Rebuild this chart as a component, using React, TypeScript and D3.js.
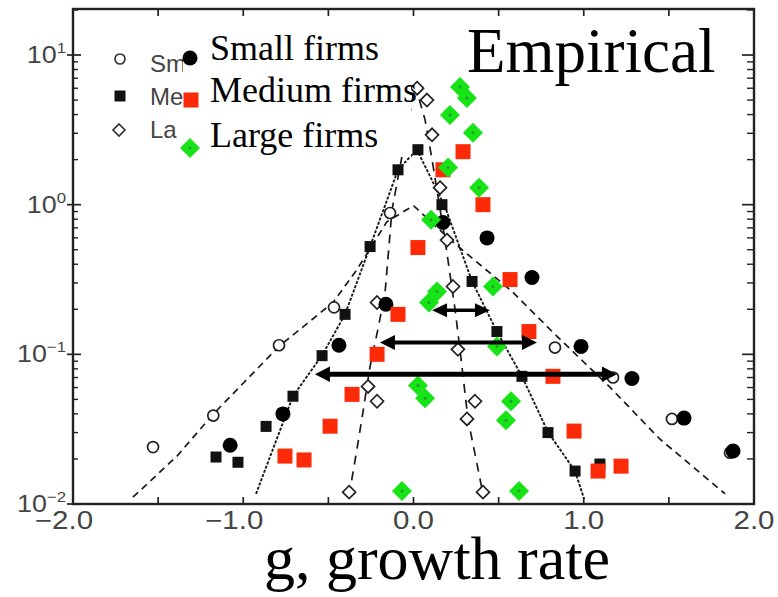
import * as d3 from "d3";

// ── Data ──────────────────────────────────────────────────────────────────────

const X_TICKS = [-2, -1, 0, 1, 2];
const X_TICK_LABELS = ["−2.0", "−1.0", "0.0", "1.0", "2.0"];
const X_MINOR = [-2, -1.5, -1, -0.5, 0, 0.5, 1, 1.5, 2];
const Y_MAJOR = [0.01, 0.1, 1, 10];
const Y_EXPONENTS = ["−2", "−1", "0", "1"];

type Pt = [number, number]; // [g, p(g)]

// fitted tents from the original (scanned) figure
const smallFit: Pt[] = [
  [-1.648, 0.0111], [-1.389, 0.0209], [-1.177, 0.0398], [-0.79, 0.113], [-0.473, 0.222],
  [-0.332, 0.369], [-0.156, 0.77], [0, 0.985], [0.214, 0.585], [0.579, 0.263],
  [0.843, 0.132], [1.154, 0.0603], [1.448, 0.0271], [1.83, 0.0117],
];
const mediumFit: Pt[] = [
  [-0.925, 0.0117], [-0.708, 0.0525], [-0.537, 0.0985], [-0.402, 0.185], [-0.255, 0.525],
  [-0.091, 1.71], [0.02, 2.33], [0.185, 0.97], [0.344, 0.307], [0.49, 0.142],
  [0.637, 0.0713], [0.79, 0.0302], [0.949, 0.0166], [1.002, 0.0108],
];
const largeFit: Pt[] = [
  [-0.379, 0.0113], [-0.332, 0.0233], [-0.297, 0.0411], [-0.255, 0.0832], [-0.209, 0.147],
  [-0.167, 0.259], [-0.126, 0.926], [-0.05, 2.71], [0.009, 6.31], [0.068, 3.69],
  [0.109, 2.0], [0.185, 0.585], [0.244, 0.2], [0.273, 0.108], [0.32, 0.0369],
  [0.379, 0.0171], [0.408, 0.0117],
];

// original markers
const smallOrig: Pt[] = [
  [-1.53, 0.024], [-1.176, 0.039], [-0.79, 0.115], [-0.467, 0.206], [-0.138, 0.88],
  [0.831, 0.111], [1.172, 0.07], [1.518, 0.037], [1.859, 0.022],
];
const mediumOrig: Pt[] = [
  [-1.16, 0.0206], [-1.031, 0.019], [-0.866, 0.033], [-0.708, 0.0525], [-0.537, 0.098],
  [-0.402, 0.185], [-0.255, 0.525], [-0.091, 1.71], [0.026, 2.33], [0.167, 1.0],
  [0.344, 0.307], [0.49, 0.142], [0.637, 0.0713], [0.79, 0.03], [0.949, 0.0166],
  [1.095, 0.0185],
];
const largeOrig: Pt[] = [
  [-0.378, 0.012], [-0.267, 0.061], [-0.214, 0.0486], [-0.214, 0.222], [0.021, 6.0],
  [0.079, 5.0], [0.109, 2.93], [0.156, 1.3], [0.197, 0.58], [0.232, 0.284],
  [0.261, 0.108], [0.361, 0.0486], [0.314, 0.037], [0.408, 0.012],
];

// overlaid empirical points
const smallEmp: Pt[] = [
  [-1.077, 0.0247], [-0.767, 0.04], [-0.438, 0.115], [-0.162, 0.216], [0.173, 0.76],
  [0.432, 0.6], [0.696, 0.326], [0.984, 0.113], [1.283, 0.069], [1.589, 0.0375],
  [1.877, 0.0226],
];
const mediumEmp: Pt[] = [
  [-0.755, 0.0209], [-0.643, 0.0197], [-0.49, 0.0331], [-0.361, 0.054], [-0.214, 0.1],
  [-0.091, 0.185], [0.026, 0.517], [0.173, 1.71], [0.291, 2.26], [0.408, 1.0],
  [0.567, 0.316], [0.678, 0.142], [0.819, 0.0713], [0.943, 0.0307], [1.084, 0.0166],
  [1.219, 0.0179],
];
const largeEmp: Pt[] = [
  [0.273, 6.12], [0.314, 5.17], [0.214, 3.98], [0.349, 3.02], [0.203, 1.77],
  [0.385, 1.3], [0.103, 0.794], [0.138, 0.263], [0.091, 0.222], [0.467, 0.284],
  [0.49, 0.113], [0.026, 0.062], [0.068, 0.0509], [0.573, 0.0486], [0.543, 0.0363],
  [-0.068, 0.0122], [0.62, 0.0122],
];

// double-headed arrows: [g from, g to, p]
const arrows: [number, number, number][] = [
  [0.109, 0.449, 0.197],
  [-0.197, 0.725, 0.12],
  [-0.579, 1.195, 0.0736],
];
const ARROW_WIDTH = [3.5, 4, 5];

// old legend text is cut off by the new legend box in the source
const OLD_LEGEND = ["Sm", "Me", "La"];
const NEW_LEGEND = ["Small firms", "Medium firms", "Large firms"];

// ── Layout ────────────────────────────────────────────────────────────────────

const W = 778;
const H = 597;
const PLOT = { left: 73, right: 754, top: 9, bottom: 504 };
const SANS = "'Liberation Sans', Arial, sans-serif";
const SERIF = "'Liberation Serif', 'Times New Roman', serif";
const RED = "#fd2a08";
const GREEN = "#16e416";

const x = d3.scaleLinear().domain([-2, 2]).range([PLOT.left, PLOT.right]);
const y = d3.scaleLog().domain([0.01, 20.3]).range([PLOT.bottom, PLOT.top]);

const line = d3
  .line<Pt>()
  .x((d) => x(d[0]))
  .y((d) => y(d[1]));

function diamond(cx: number, cy: number, r: number) {
  return `M${cx},${cy - r}L${cx + r},${cy}L${cx},${cy + r}L${cx - r},${cy}Z`;
}

export default function App() {
  const yMinor = y.ticks().filter((t) => !Y_MAJOR.some((m) => Math.abs(m - t) < 1e-9));

  return (
    <svg width={W} height={H} style={{ display: "block" }}>
      <style>{`body{margin:0}`}</style>
      <defs>
        <clipPath id="old-legend-clip">
          <rect x={0} y={0} width={183} height={H} />
        </clipPath>
      </defs>
      <rect width={W} height={H} fill="#fff" />

      {/* fitted lines */}
      <path d={line(smallFit) ?? ""} fill="none" stroke="#1a1a1a" strokeWidth={1.7} strokeDasharray="7,5" />
      <path d={line(mediumFit) ?? ""} fill="none" stroke="#1a1a1a" strokeWidth={1.9} strokeDasharray="3,1.5" />
      <path d={line(largeFit) ?? ""} fill="none" stroke="#1a1a1a" strokeWidth={1.7} strokeDasharray="9,7" />

      {/* original markers */}
      {smallOrig.map((d, i) => (
        <circle key={`so${i}`} cx={x(d[0])} cy={y(d[1])} r={5.5} fill="#fff" stroke="#222" strokeWidth={1.7} />
      ))}
      {mediumOrig.map((d, i) => (
        <rect key={`mo${i}`} x={x(d[0]) - 5.5} y={y(d[1]) - 5.5} width={11} height={11} fill="#111" />
      ))}
      {largeOrig.map((d, i) => (
        <path key={`lo${i}`} d={diamond(x(d[0]), y(d[1]), 6.5)} fill="#fff" stroke="#222" strokeWidth={1.7} />
      ))}

      {/* empirical markers */}
      {smallEmp.map((d, i) => (
        <circle key={`se${i}`} cx={x(d[0])} cy={y(d[1])} r={7.5} fill="#000" />
      ))}
      {mediumEmp.map((d, i) => (
        <rect key={`me${i}`} x={x(d[0]) - 7.5} y={y(d[1]) - 7.5} width={15} height={15} fill={RED} />
      ))}
      {largeEmp.map((d, i) => (
        <g key={`le${i}`}>
          <path d={diamond(x(d[0]), y(d[1]), 10)} fill={GREEN} />
          <circle cx={x(d[0])} cy={y(d[1])} r={1.5} fill="#2a9a2a" />
        </g>
      ))}

      {/* arrows */}
      {arrows.map(([g0, g1, p], i) => {
        const x0 = x(g0);
        const x1 = x(g1);
        const yy = y(p);
        const hl = 15;
        const hh = 7 + i * 0.4;
        return (
          <g key={`a${i}`} fill="#000">
            <line x1={x0 + hl - 2} x2={x1 - hl + 2} y1={yy} y2={yy} stroke="#000" strokeWidth={ARROW_WIDTH[i]} />
            <path d={`M${x0},${yy}L${x0 + hl},${yy - hh}L${x0 + hl},${yy + hh}Z`} />
            <path d={`M${x1},${yy}L${x1 - hl},${yy - hh}L${x1 - hl},${yy + hh}Z`} />
          </g>
        );
      })}

      {/* frame */}
      <rect
        x={PLOT.left}
        y={PLOT.top}
        width={PLOT.right - PLOT.left}
        height={PLOT.bottom - PLOT.top}
        fill="none"
        stroke="#222"
        strokeWidth={2.4}
      />

      {/* x ticks, top and bottom, pointing inward */}
      {X_MINOR.map((t) => (
        <g key={`xt${t}`} stroke="#222" strokeWidth={1.7}>
          <line x1={x(t)} x2={x(t)} y1={PLOT.bottom} y2={PLOT.bottom - 7} />
          <line x1={x(t)} x2={x(t)} y1={PLOT.top} y2={PLOT.top + 7} />
        </g>
      ))}
      {X_TICKS.map((t, i) => {
        const neg = X_TICK_LABELS[i].startsWith("−");
        return (
          <text
            key={`xl${t}`}
            transform={`translate(${x(t) - (neg ? 9 : 0)},529) scale(1.18,1)`}
            textAnchor="middle"
            fontFamily={SANS}
            fontSize={25}
            fill="#444"
          >
            {X_TICK_LABELS[i]}
          </text>
        );
      })}

      {/* y ticks */}
      {Y_MAJOR.map((t) => (
        <g key={`ym${t}`} stroke="#222" strokeWidth={1.7}>
          <line x1={PLOT.left - 6} x2={PLOT.left + 8} y1={y(t)} y2={y(t)} />
          <line x1={PLOT.right - 12} x2={PLOT.right} y1={y(t)} y2={y(t)} />
        </g>
      ))}
      {yMinor.map((t) => (
        <g key={`yn${t}`} stroke="#222" strokeWidth={1.4}>
          <line x1={PLOT.left} x2={PLOT.left + 5} y1={y(t)} y2={y(t)} />
          <line x1={PLOT.right - 7} x2={PLOT.right} y1={y(t)} y2={y(t)} />
        </g>
      ))}
      {Y_MAJOR.map((t, i) => (
        <text
          key={`yl${t}`}
          transform={`translate(66,${y(t) + 8}) scale(1.12,1)`}
          textAnchor="end"
          fontFamily={SANS}
          fontSize={24}
          fill="#444"
        >
          10
          <tspan dy={-10} fontSize={15}>
            {Y_EXPONENTS[i]}
          </tspan>
        </text>
      ))}

      {/* original legend (partly covered) */}
      <circle cx={120} cy={59} r={5} fill="#fff" stroke="#333" strokeWidth={1.7} />
      <rect x={114.5} y={90.5} width={11} height={11} fill="#111" />
      <path d={diamond(119, 130, 6)} fill="#fff" stroke="#333" strokeWidth={1.7} />
      <g clipPath="url(#old-legend-clip)">
        {OLD_LEGEND.map((s, i) => (
          <text key={s} x={150} y={72 + i * 33} fontFamily={SANS} fontSize={24} fill="#444">
            {s}
          </text>
        ))}
      </g>

      {/* new legend on white box */}
      <rect x={183} y={20} width={228} height={137} fill="#fff" />
      <circle cx={190} cy={58} r={7.5} fill="#000" />
      <rect x={183.5} y={92.5} width={15} height={15} fill={RED} />
      <path d={diamond(190, 148, 10)} fill={GREEN} />
      <circle cx={190} cy={148} r={1.5} fill="#2a9a2a" />
      {NEW_LEGEND.map((s, i) => (
        <text key={s} x={210} y={[60, 102, 147][i]} fontFamily={SERIF} fontSize={36} fill="#000">
          {s}
        </text>
      ))}

      <text x={467} y={72} fontFamily={SERIF} fontSize={63} fill="#000">
        Empirical
      </text>
      <text x={437} y={579} textAnchor="middle" fontFamily={SERIF} fontSize={62} fill="#000">
        g, growth rate
      </text>
    </svg>
  );
}
